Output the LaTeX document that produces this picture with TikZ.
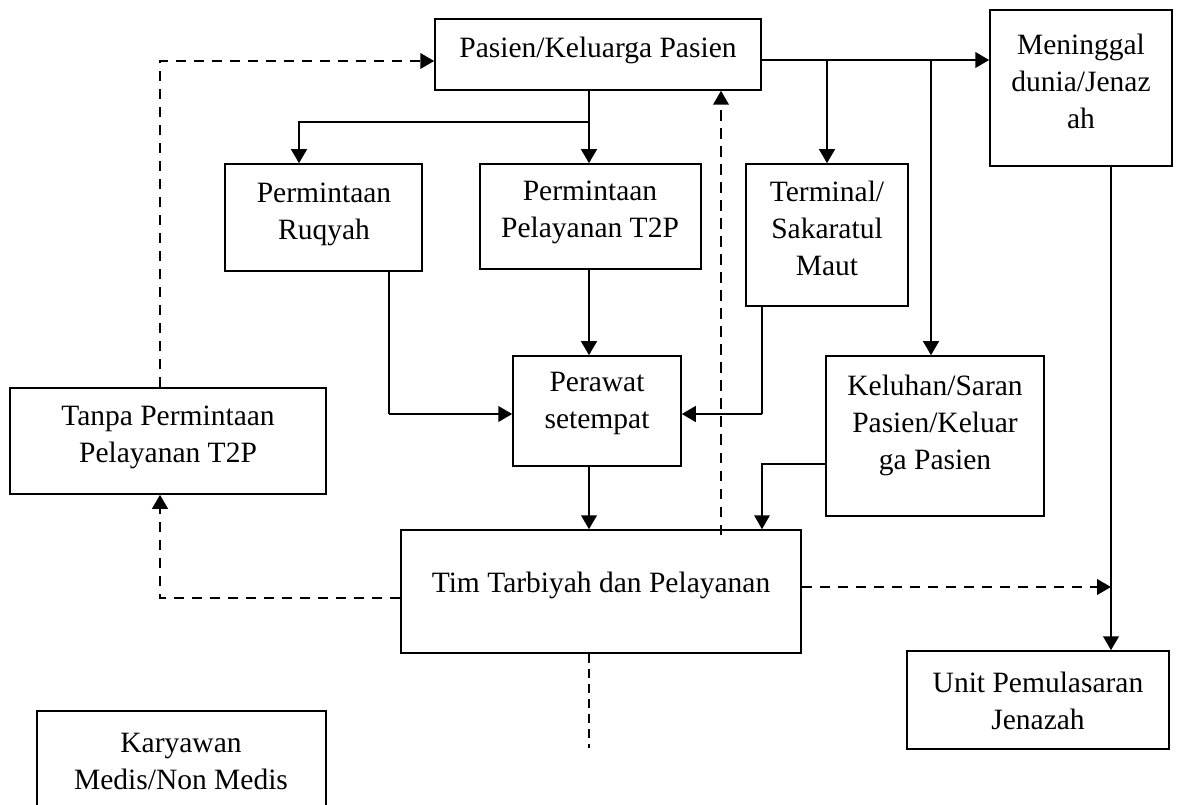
\documentclass[tikz,border=0pt]{standalone}
\usepackage{fontspec}
\setmainfont{Liberation Serif}
\usetikzlibrary{arrows.meta,fit}
\begin{document}
\begin{tikzpicture}[x=0.4pt,y=-0.4pt,
  box/.style={draw,line width=0.6pt,inner sep=0pt},
  txt/.style={align=center,inner sep=0pt,font=\fontsize{11.8pt}{14.8pt}\selectfont},
  tip/.style={-{Triangle[length=5.6pt,width=6.2pt]}},
  arr/.style={tip,line width=1.05pt},
  thinarr/.style={tip,line width=0.6pt},
  thinline/.style={line width=0.6pt},
  darr/.style={tip,line width=0.95pt,dash pattern=on 4.2pt off 3pt},
  thindash/.style={line width=0.6pt,dash pattern=on 3.6pt off 2.4pt}]
\useasboundingbox (0,0) rectangle (1179,805);
\clip (0,0) rectangle (1179,805);
% boxes
\node[box,fit={(435,19) (761,90)}] (pas) {};
\node[box,fit={(990,10) (1172,166)}] (men) {};
\node[box,fit={(225,164) (422,271)}] (ruq) {};
\node[box,fit={(480,164) (701,269)}] (t2p) {};
\node[box,fit={(746,164) (908,306)}] (ter) {};
\node[box,fit={(513,356) (681,466)}] (per) {};
\node[box,fit={(826,356) (1044,516)}] (kel) {};
\node[box,fit={(10,388) (326,494)}] (tan) {};
\node[box,fit={(401,530) (801,653)}] (tim) {};
\node[box,fit={(907,651) (1169,749)}] (uni) {};
\node[box,fit={(37,711) (326,820)}] (kar) {};
% texts
\node[txt] (pasT) at (598,50) {Pasien/Keluarga Pasien};
\node[txt] (menT) at (1081,81) {Meninggal\\dunia/Jenaz\\ah};
\node[txt] (ruqT) at (324,214) {Permintaan\\Ruqyah};
\node[txt] (t2pT) at (590,212) {Permintaan\\Pelayanan T2P};
\node[txt] (terT) at (827,228) {Terminal/\\Sakaratul\\Maut};
\node[txt] (perT) at (597,403) {Perawat\\setempat};
\node[txt] (kelT) at (935,425) {Keluhan/Saran\\Pasien/Keluar\\ga Pasien};
\node[txt] (tanT) at (168,437) {Tanpa Permintaan\\Pelayanan T2P};
\node[txt] (timT) at (601,585) {Tim Tarbiyah dan Pelayanan};
\node[txt] (uniT) at (1038,701) {Unit Pemulasaran\\Jenazah};
\node[txt] (karT) at (181,761) {Karyawan\\Medis/Non Medis};
% junctions
\coordinate (jb) at (589,122);
\coordinate (jk) at (931,60);
\coordinate (jr) at (389,414);
\coordinate (jt) at (762,414);
\coordinate (jm) at (1111,587);
\coordinate (jd) at (589,748);
% solid connectors
\draw[arr] (pas.east |- 0,60) -- (men.west |- 0,60);
\draw[arr] (ter.north |- 0,60) -- (ter.north);
\draw[arr] (jk) -- (jk |- kel.north);
\draw[arr] (jb |- pas.south) -- (jb |- t2p.north);
\draw[arr] (jb) -| (299,0 |- ruq.north);
\draw[thinline] (jr |- ruq.south) -- (jr);
\draw[arr] (jr) -- (per.west |- jr);
\draw[arr] (jb |- t2p.south) -- (jb |- per.north);
\draw[thinline] (jt |- ter.south) -- (jt);
\draw[arr] (jt) -- (per.east |- jt);
\draw[arr] (jb |- per.south) -- (jb |- tim.north);
\draw[thinarr] (kel.west |- 0,464) -| (jt |- tim.north);
\draw[arr] (jm |- men.south) -- (jm |- uni.north);
% dashed connectors
\draw[darr] (721,535) -- (721,0 |- pas.south);
\draw[darr] (tim.west |- 0,598) -| (160,0 |- tan.south);
\draw[darr] (160,0 |- tan.north) |- (pas.west |- 0,61);
\draw[darr] (tim.east |- jm) -- (jm);
\draw[thindash] (jb |- tim.south) -- (jd);
\end{tikzpicture}
\end{document}
